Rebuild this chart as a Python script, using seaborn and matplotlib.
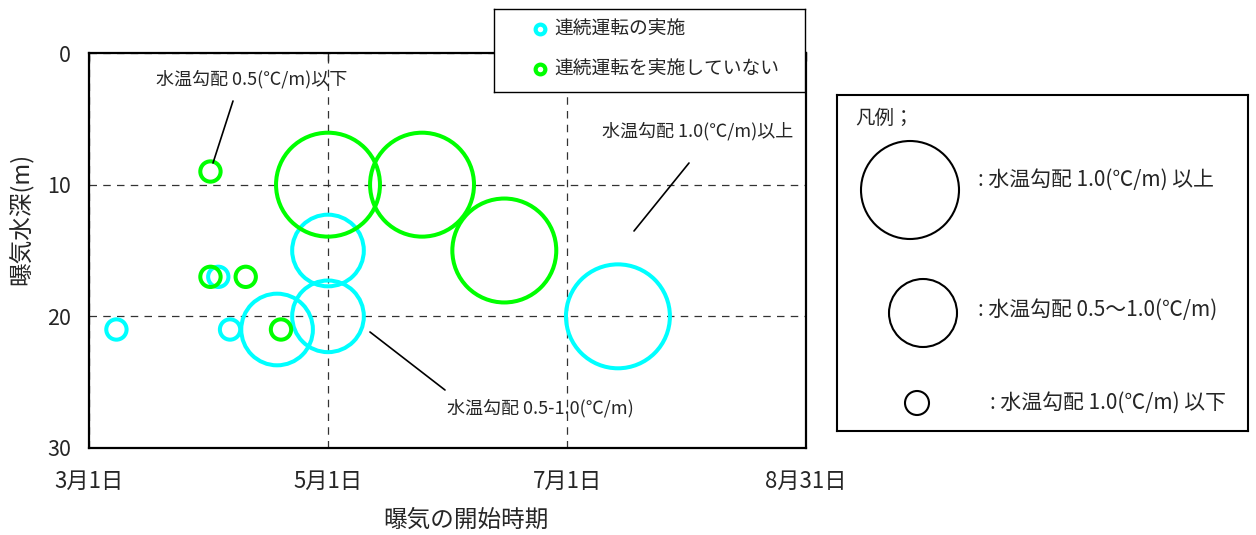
import pandas as pd
import numpy as np
import matplotlib.pyplot as plt
import seaborn as sns
from matplotlib.patches import Circle

# start date of aeration / aeration depth / water temp gradient class
cyan_name = "連続運転の実施"
cyan_dates = ["2000-03-08", "2000-04-03", "2000-04-06", "2000-04-18", "2000-05-01", "2000-05-01", "2000-07-14"]
cyan_depth = [21, 17, 21, 21, 20, 15, 20]
cyan_grad = ["small", "small", "small", "medium", "medium", "medium", "large"]

green_name = "連続運転を実施していない"
green_dates = ["2000-04-01", "2000-04-01", "2000-04-10", "2000-04-19", "2000-05-01", "2000-05-25", "2000-06-15"]
green_depth = [9, 17, 17, 21, 10, 10, 15]
green_grad = ["small", "small", "small", "small", "large", "large", "large"]

tick_dates = ["2000-03-01", "2000-05-01", "2000-07-01", "2000-08-31"]
tick_labels = ["3月1日", "5月1日", "7月1日", "8月31日"]
depth_ticks = [0, 10, 20, 30]

legend_labels = [": 水温勾配 1.0(℃/m) 以上", ": 水温勾配 0.5～1.0(℃/m)", ": 水温勾配 1.0(℃/m) 以下"]

#Building the dataframe
df = pd.DataFrame({
    "date": pd.to_datetime(cyan_dates + green_dates),
    "depth": cyan_depth + green_depth,
    "group": [cyan_name] * len(cyan_dates) + [green_name] * len(green_dates),
    "grad": cyan_grad + green_grad,
})

sns.set_style("white")
plt.rcParams['font.family'] = ['Noto Sans CJK JP', 'DejaVu Sans']

W, H = 1256, 535
def fx(x):
    return x / W
def fy(y):
    return 1 - y / H

fig = plt.figure(figsize=(W / 100, H / 100), dpi=100)
ax = fig.add_axes([fx(89), fy(448), (806 - 89) / W, (448 - 53) / H])

cyan = "#00FFFF"
green = "#00FF00"
palette = {cyan_name: cyan, green_name: green}
size_map = {"large": 5600, "medium": 2660, "small": 214}

sns.scatterplot(data=df, x="date", y="depth", hue="group", size="grad",
                sizes=size_map, palette=palette, legend=False, ax=ax,
                linewidth=2.9, zorder=3)
#open circles
pts = ax.collections[0]
fc = pts.get_facecolors()
pts.set_edgecolors(fc)
pts.set_facecolors("none")

ax.set_xlim(pd.Timestamp(tick_dates[0]), pd.Timestamp(tick_dates[-1]))
ax.set_ylim(30, 0)
ax.set_xticks(pd.to_datetime(tick_dates))
ax.set_xticklabels(tick_labels)
ax.set_yticks(depth_ticks)
ax.grid(True, linestyle=(0, (6, 5)), color="#333333", linewidth=0.9)
ax.tick_params(axis="x", direction="in", length=6, width=1, labelsize=16, pad=16, top=True)
ax.tick_params(axis="y", direction="in", length=6, width=1, labelsize=15.5, pad=13)
for s in ax.spines.values():
    s.set_color("black")
    s.set_linewidth(1.6)

ax.set_xlabel("曝気の開始時期", fontsize=17)
ax.set_ylabel("曝気水深(m)", fontsize=17)
ax.xaxis.set_label_coords(0.526, -0.155)
ax.yaxis.set_label_coords(-0.078, 0.58)

#annotations
notes = [("水温勾配 0.5(℃/m)以下", (252, 79), (233, 101), (213, 163)),
         ("水温勾配 1.0(℃/m)以上", (698, 131), (689, 163), (634, 231)),
         ("水温勾配 0.5-1.0(℃/m)", (540, 408), (370, 332), (445, 390))]
for txt, tpos, p0, p1 in notes:
    fig.text(fx(tpos[0]), fy(tpos[1]), txt, fontsize=13, ha="center", va="center")
    ax.annotate("", xy=(fx(p1[0]), fy(p1[1])), xytext=(fx(p0[0]), fy(p0[1])),
                xycoords="figure fraction", textcoords="figure fraction",
                arrowprops=dict(arrowstyle="-", lw=1.2, color="black",
                                shrinkA=0, shrinkB=0))

#series legend box
lax = fig.add_axes([fx(494), fy(92), 311 / W, 83 / H])
lax.set_xlim(0, 311)
lax.set_ylim(83, 0)
lax.set_xticks([])
lax.set_yticks([])
for s in lax.spines.values():
    s.set_color("black")
    s.set_linewidth(1)
for i, (name, col) in enumerate([(cyan_name, cyan), (green_name, green)]):
    yy = 20 + 40 * i
    lax.plot(46, yy, marker="o", ms=7, mfc="white", mec=col, mew=3)
    lax.text(60, yy, name, fontsize=13.5, va="center", ha="left")

#size legend box
rax = fig.add_axes([fx(837), fy(431), 411 / W, 336 / H])
rax.set_xlim(0, 411)
rax.set_ylim(336, 0)
rax.set_xticks([])
rax.set_yticks([])
for s in rax.spines.values():
    s.set_color("black")
    s.set_linewidth(1.5)
rax.text(18, 23, "凡例；", fontsize=14, va="center", ha="left")
circles = [((73, 95), 49), ((86, 218), 34), ((80, 308), 12)]
text_pos = [(141, 85), (141, 215), (153, 308)]
for (c, r), tp, lab in zip(circles, text_pos, legend_labels):
    rax.add_patch(Circle(c, r, fill=False, lw=1.5, color="black"))
    rax.text(tp[0], tp[1], lab, fontsize=15, va="center", ha="left")

plt.savefig("out.png", dpi=100)
